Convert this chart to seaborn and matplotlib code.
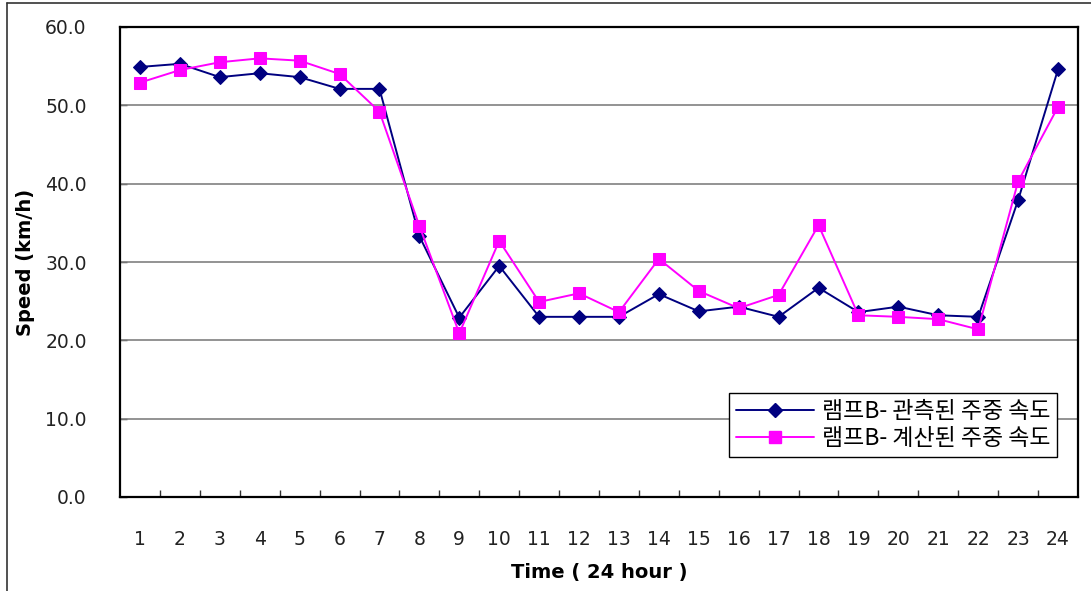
import numpy as np
import pandas as pd
import matplotlib
matplotlib.use("Agg")
import matplotlib.pyplot as plt
from matplotlib.lines import Line2D
from matplotlib.ticker import FixedLocator, FormatStrFormatter
import seaborn as sns

# Hourly ramp speeds (km/h)
hours = list(range(1, 25))
observed = [54.9, 55.3, 53.6, 54.1, 53.6, 52.1, 52.1, 33.3, 22.9, 29.5, 23.0, 23.0,
            23.0, 25.9, 23.7, 24.3, 23.0, 26.7, 23.6, 24.3, 23.2, 23.0, 37.9, 54.6]
calculated = [52.9, 54.5, 55.5, 56.0, 55.7, 54.0, 49.2, 34.6, 20.9, 32.7, 24.9, 26.0,
              23.6, 30.4, 26.3, 24.1, 25.8, 34.7, 23.2, 23.0, 22.7, 21.4, 40.3, 49.8]
label_obs = "램프B- 관측된 주중 속도"
label_calc = "램프B- 계산된 주중 속도"
y_ticks = [0, 10, 20, 30, 40, 50, 60]

sns.set_style("white")
plt.rcParams["font.family"] = ["DejaVu Sans", "Noto Sans CJK KR"]

df = pd.DataFrame({"hour": hours, "obs": observed, "calc": calculated})

fig = plt.figure(figsize=(10.91, 5.91), dpi=100)
ax = fig.add_axes([120 / 1091, 1 - 497 / 591, 958 / 1091, 470 / 591])

navy = "#000080"
magenta = "#FF00FF"

sns.lineplot(data=df, x="hour", y="obs", ax=ax, color=navy, linewidth=1.4,
             marker="D", markersize=7, markeredgecolor=navy, zorder=3)
sns.lineplot(data=df, x="hour", y="calc", ax=ax, color=magenta, linewidth=1.4,
             marker="s", markersize=8, markeredgecolor=magenta, zorder=4)

ax.set_xlim(0.5, 24.5)
ax.set_ylim(0, 60)

# horizontal gridlines
for v in y_ticks[1:-1]:
    ax.axhline(v, color="#808080", linewidth=1.2, zorder=1)

ax.xaxis.set_major_locator(FixedLocator(hours))
ax.xaxis.set_minor_locator(FixedLocator([h + 0.5 for h in hours[:-1]]))
ax.set_xticklabels([str(h) for h in hours])
ax.tick_params(axis="x", which="major", length=0, pad=24, labelsize=13.5,
               labelcolor="#222222")
ax.tick_params(axis="x", which="minor", direction="in", length=5, width=1,
               color="#333333", bottom=True)

ax.yaxis.set_major_locator(FixedLocator(y_ticks))
ax.yaxis.set_major_formatter(FormatStrFormatter("%.1f"))
ax.tick_params(axis="y", which="major", direction="in", length=5, width=1, left=True,
               pad=24, labelsize=13.5, color="#333333", labelcolor="#222222")

for side in ["left", "right", "top", "bottom"]:
    ax.spines[side].set_visible(True)
    ax.spines[side].set_color("black")
    ax.spines[side].set_linewidth(1.6)

ax.set_xlabel("Time ( 24 hour )", fontsize=14, fontweight="bold", labelpad=10,
              color="black")
ax.set_ylabel("Speed (km/h)", fontsize=14, fontweight="bold", labelpad=7,
              color="black")

handles = [
    Line2D([], [], color=navy, linewidth=1.4, marker="D", markersize=7, markeredgecolor=navy),
    Line2D([], [], color=magenta, linewidth=1.4, marker="s", markersize=8, markeredgecolor=magenta),
]
leg = ax.legend(handles, [label_obs, label_calc], loc="lower right",
                bbox_to_anchor=(0.978, 0.085), frameon=True, fancybox=False,
                framealpha=1, edgecolor="black", borderpad=0.3, handlelength=3.4,
                handletextpad=0.35, labelspacing=0.2, borderaxespad=0,
                prop={"family": ["Noto Sans CJK KR", "DejaVu Sans"], "size": 16.5})
leg.get_frame().set_linewidth(1.0)
leg.set_zorder(10)
for t in leg.get_texts():
    t.set_color("black")

# outer chart frame edges
fig.add_artist(Line2D([7 / 1091, 7 / 1091], [0, 1 - 3 / 591], transform=fig.transFigure,
                      color="#333333", linewidth=1.2))
fig.add_artist(Line2D([7 / 1091, 1], [1 - 3 / 591, 1 - 3 / 591], transform=fig.transFigure,
                      color="#333333", linewidth=1.2))

fig.savefig("out.png", dpi=100)
